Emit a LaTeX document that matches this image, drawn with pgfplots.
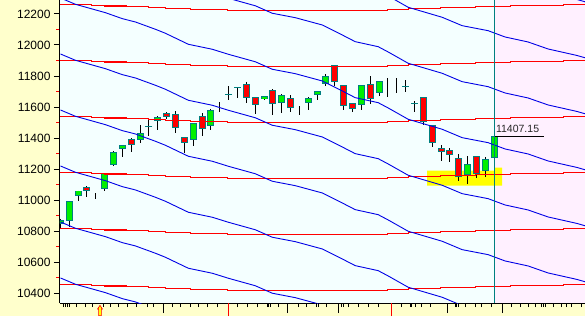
\documentclass[border=0pt]{standalone}
\usepackage{fontspec}
\setmainfont{Liberation Sans}
\usepackage{pgfplots}
\usepackage{pgfplotstable}
\pgfplotsset{compat=1.18}
\definecolor{bgyel}{RGB}{255,255,204}
\definecolor{bgcyan}{RGB}{244,255,255}
\definecolor{bgpink}{RGB}{255,240,255}
\definecolor{cteal}{RGB}{0,128,128}
\definecolor{cgreen}{RGB}{0,240,0}
\definecolor{cred}{RGB}{255,0,0}
\definecolor{cblue}{RGB}{0,0,230}
\definecolor{hiyel}{RGB}{255,255,0}

\pgfplotstableread{
i O H L C
0 10852 10878 10819 10866
1 10868 10992 10825 10990
2 11029 11062 10995 11059
5 11074 11172 11061 11169
6 11233 11319 11224 11306
7 11333 11355 11278 11350
9 11390 11486 11370 11432
11 11512 11545 11450 11535
15 11388 11495 11351 11492
17 11480 11589 11454 11576
23 11653 11672 11645 11666
25 11628 11686 11563 11673
28 11628 11666 11583 11653
29 11680 11705 11647 11700
30 11750 11814 11737 11795
34 11615 11743 11583 11737
36 11692 11770 11670 11763
46 11165 11287 11107 11229
48 11190 11280 11152 11261
49 11272 11416 11270 11407.15
}\uptab

\pgfplotstableread{
i O H L C
3 11080 11088 11023 11064
8 11390 11400 11310 11357
12 11557 11565 11522 11538
13 11555 11576 11430 11467
14 11402 11405 11307 11370
16 11538 11564 11416 11460
21 11743 11763 11628 11660
22 11660 11662 11557 11615
24 11705 11718 11550 11621
26 11653 11679 11570 11596
31 11866 11870 11737 11763
32 11737 11740 11583 11609
33 11621 11625 11570 11589
35 11743 11801 11621 11653
41 11660 11662 11486 11506
42 11480 11485 11344 11370
43 11332 11358 11255 11315
44 11319 11338 11248 11293
45 11268 11300 11126 11152
47 11280 11287 11145 11171
}\downtab

\pgfplotstableread{
i O H L C
10 11473 11531 11416 11473
19 11679 11737 11647 11679
20 11724 11730 11660 11724
39 11730 11776 11699 11730
40 11621 11640 11570 11621
}\dojitab

\pgfplotstableread{
i O H L C
4 11030 11048 11010 11030
18 11600 11634 11570 11600
27 11580 11609 11550 11580
37 11730 11788 11666 11730
38 11740 11788 11692 11740
}\plaintab

% red step lines: drop below base level
\pgfplotstableread{
x d
0 0
3.5 6.4
4.97 11
7.45 16.8
9.94 23.2
11.86 29.6
14.68 35.4
18.86 41.9
36.92 35.4
39.29 29.6
42.90 23.2
46.86 16.8
50.81 10.3
54.19 6.4
56.8 3.2
59.4 3.2
}\redtab

% blue channel line (reference line through first candle)
\pgfplotstableread{
x v
0 10859.4
1.69 10818.8
5.08 10764.7
7.0 10726
8.47 10704.8
10.73 10657.7
11.86 10631.9
14.45 10561
17.16 10528.8
18.97 10496.6
22.02 10448.2
23.94 10399.9
26.53 10371.6
29.58 10324.5
31.84 10260.1
33.31 10216.9
35.90 10184.6
37.03 10150.5
39.29 10077.7
43.13 10013.2
45.39 9959.1
48.32 9926.9
50.24 9886.2
52.84 9854
55.10 9808.9
58.37 9767
59.4 9750
}\bluetab

% full wick (for doji / plain candles)
\newcommand{\wicks}[1]{%
\addplot[draw=none, mark=none, error bars/.cd, y dir=both, y explicit, error mark=none,
  error bar style={draw=black, line width=1pt}]
  table[x=i, y expr={(\thisrow{H}+\thisrow{L})/2}, y error expr={(\thisrow{H}-\thisrow{L})/2}] {#1};}
% upper and lower wicks only (for candles with a body)
\newcommand{\splitwicks}[1]{%
\addplot[draw=none, mark=none, error bars/.cd, y dir=both, y explicit, error mark=none,
  error bar style={draw=black, line width=1pt}]
  table[x=i, y expr={(\thisrow{H}+max(\thisrow{O},\thisrow{C}))/2}, y error expr={(\thisrow{H}-max(\thisrow{O},\thisrow{C}))/2}] {#1};
\addplot[draw=none, mark=none, error bars/.cd, y dir=both, y explicit, error mark=none,
  error bar style={draw=black, line width=1pt}]
  table[x=i, y expr={(\thisrow{L}+min(\thisrow{O},\thisrow{C}))/2}, y error expr={(min(\thisrow{O},\thisrow{C})-\thisrow{L})/2}] {#1};}
\newcommand{\bodies}[2]{%
\addplot[draw=none, mark=none, error bars/.cd, y dir=both, y explicit, error mark=none,
  error bar style={draw=cteal, line width=7pt}]
  table[x=i, y expr={(\thisrow{O}+\thisrow{C})/2}, y error expr={abs(\thisrow{C}-\thisrow{O})/2+3.2}] {#1};
\addplot[draw=none, mark=none, error bars/.cd, y dir=both, y explicit, error mark=none,
  error bar style={draw=#2, line width=5pt}]
  table[x=i, y expr={(\thisrow{O}+\thisrow{C})/2}, y error expr={max(abs(\thisrow{C}-\thisrow{O})/2-3.2,0)}] {#1};}

\begin{document}
\begin{tikzpicture}[x=1pt,y=1pt]
\fill[bgyel] (-60,-13) rectangle (525,303);
\begin{axis}[
  at={(0,0)}, anchor=south west, scale only axis, width=525pt, height=303pt,
  xmin=-0.05, xmax=59.27, ymin=10337, ymax=12290,
  axis x line*=bottom, axis y line*=left,
  axis line style={-, line width=1pt, black},
  axis background/.style={fill=bgcyan},
  xtick=\empty,
  ytick={10400,10600,...,12200},
  minor ytick={10500,10700,...,12100},
  tick align=outside, major tick length=6pt, minor tick length=3.5pt,
  major tick style={black, line width=1pt},
  minor tick style={cred, line width=1pt},
  scaled y ticks=false,
  yticklabel style={font=\fontsize{12}{14}\selectfont, text=black, /pgf/number format/fixed, /pgf/number format/1000 sep={}},
  /pgf/number format/assume math mode=true,
  clip=true,
]
\fill[bgpink] (axis cs:49,10337) rectangle (axis cs:60,12290);
\fill[hiyel] (axis cs:41.44,11093) -- (axis cs:49.9,11093) -- (axis cs:49.9,11209)
  -- (axis cs:49.0,11209) -- (axis cs:49.0,11190) -- (axis cs:41.44,11190) -- cycle;
% candles
\splitwicks{\uptab}
\splitwicks{\downtab}
\wicks{\dojitab}
\wicks{\plaintab}
\bodies{\uptab}{cgreen}
\bodies{\downtab}{cred}
\addplot[only marks, mark=-, mark size=3.5pt, mark options={draw=cteal, line width=1pt}]
  table[x=i, y=C] {\dojitab};
% red step lines
\pgfplotsinvokeforeach{0,...,5}{
  \addplot[cred, line width=1.2pt, const plot] table[x=x, y expr={10458+(#1)*360.9-\thisrow{d}}] {\redtab};
}
% blue lines
\pgfplotsinvokeforeach{-1,...,7}{
  \addplot[cblue, line width=0.9pt] table[x=x, y expr={\thisrow{v}+(#1)*360.9}] {\bluetab};
}
\addplot[black, line width=1pt] coordinates {(49,11407.15) (54.65,11407.15)};
\addplot[cteal, line width=1pt] coordinates {(49,10337) (49,12290)};
\node[anchor=base west, inner sep=0pt, font=\fontsize{10.5}{12}\selectfont, text=black!85] at (axis cs:49.2,11436) {11407.15};
\end{axis}
% x axis date ticks (short and long)
\begin{axis}[
  at={(0,0)}, anchor=south west, scale only axis, width=525pt, height=303pt,
  xmin=-0.05, xmax=59.27, ymin=10337, ymax=12290,
  axis x line*=bottom, axis y line=none, axis line style={draw=none},
  ytick=\empty,
  xtick={11.66,25.66,31.42,43.73,49.98},
  minor xtick={0.30,0.53,0.76,0.98,1.81,2.82,3.58,4.89,5.65,6.55,7.56,8.58,9.79,10.50,12.61,13.55,14.68,15.61,16.63,17.69,19.95,21.08,22.21,23.34,23.52,23.71,24.65,26.91,27.85,28.98,29.13,30.11,31.81,31.99,32.52,33.65,34.81,35.94,38.58,39.52,39.71,40.08,40.84,41.78,44.60,44.79,44.97,45.73,46.86,47.61,48.74,51.00,51.94,52.87,53.63,54.39,54.57,54.76,55.70,56.64,57.21,57.77,58.90},
  xticklabels={},
  tick align=outside, major tick length=10pt, minor tick length=4pt,
  major tick style={black, line width=1pt},
  minor tick style={black, line width=1pt},
]
\end{axis}
\begin{axis}[
  at={(0,0)}, anchor=south west, scale only axis, width=525pt, height=303pt,
  xmin=-0.05, xmax=59.27, ymin=10337, ymax=12290,
  axis x line*=bottom, axis y line=none, axis line style={draw=none},
  ytick=\empty,
  xtick={19.00,37.45},
  xticklabels={},
  tick align=outside, major tick length=13pt,
  major tick style={cred, line width=1.2pt},
]
\end{axis}
\filldraw[fill=hiyel, draw=cred, line width=0.6pt] (38.6,-12.6) -- (38.6,-6) -- (37.6,-6) -- (40,-2.4) -- (42.4,-6) -- (41.4,-6) -- (41.4,-12.6) -- cycle;
\pgfresetboundingbox
\path[use as bounding box] (-60,-13) rectangle (525,303);
\end{tikzpicture}
\end{document}
